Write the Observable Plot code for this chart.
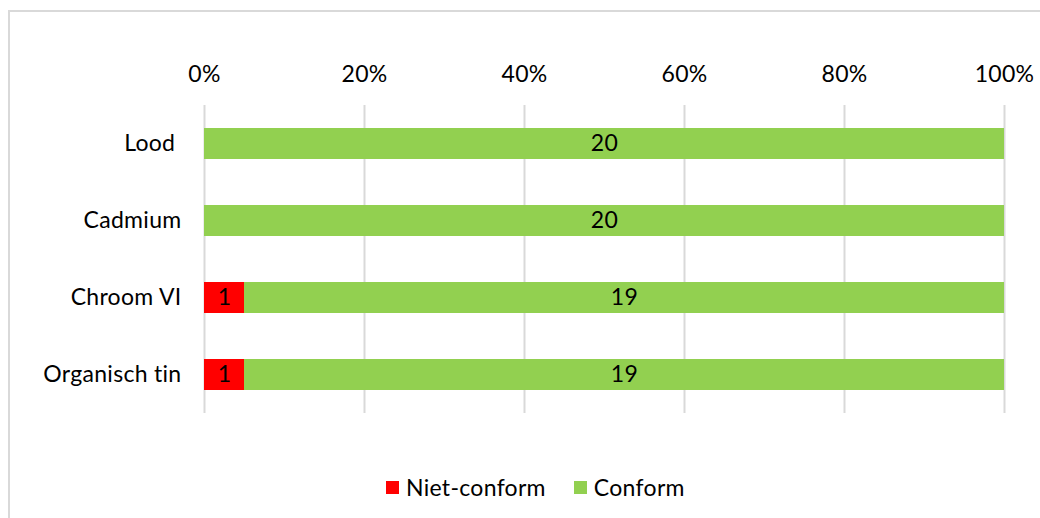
<!DOCTYPE html>
<html><head><meta charset="utf-8">
<script src="https://cdn.jsdelivr.net/npm/d3@7"></script>
<script src="https://cdn.jsdelivr.net/npm/@observablehq/plot@0.6"></script>
<style>
body{margin:0;background:#fff;font-family:Lato,"Open Sans",sans-serif;}
#wrap{position:relative;width:1040px;height:518px;overflow:hidden;}
#frame{position:absolute;left:8px;top:10px;width:1100px;height:600px;border:2px solid #d9d9d9;box-sizing:border-box;}
#chart{position:absolute;left:0;top:0;}
#legend{position:absolute;top:473px;left:386px;display:flex;font-size:23px;letter-spacing:0.3px;color:#000;white-space:nowrap;}
.item{display:flex;align-items:center;margin-right:28px;}
.sw{width:13px;height:13px;margin-right:7px;}
</style></head>
<body><div id="wrap"><div id="frame"></div><div id="chart"></div><div id="legend"></div></div>
<script>
const categories = ["Lood ", "Cadmium", "Chroom VI", "Organisch tin"];
const nietConform = [0, 0, 1, 1];
const conform = [20, 20, 19, 19];
const seriesNames = ["Niet-conform", "Conform"];
const seriesColors = ["#ff0000", "#92d050"];
const xTicks = [0, 0.2, 0.4, 0.6, 0.8, 1];

const rows = [];
categories.forEach((c, i) => {
  rows.push({cat: c, series: seriesNames[0], value: nietConform[i]});
  rows.push({cat: c, series: seriesNames[1], value: conform[i]});
});
const data = rows.filter(d => d.value > 0);

const plot = Plot.plot({
  width: 1040,
  height: 518,
  marginLeft: 204,
  marginRight: 36,
  marginTop: 105,
  marginBottom: 105,
  style: {fontFamily: "Lato, 'Open Sans', sans-serif", fontSize: "23px", letterSpacing: "0.3px", color: "#000", background: "transparent"},
  x: {domain: [0, 1], ticks: xTicks},
  y: {domain: categories, paddingInner: 0.6, paddingOuter: 0.3},
  color: {domain: seriesNames, range: seriesColors},
  marks: [
    Plot.gridX(xTicks, {stroke: "#d9d9d9", strokeOpacity: 1, strokeWidth: 2}),
    Plot.axisX({anchor: "top", ticks: xTicks, tickSize: 0, tickPadding: 24, label: null, tickFormat: d => Math.round(d * 100) + "%", fontSize: 23}),
    Plot.axisY({tickSize: 0, tickPadding: 23, fontSize: 23, label: null}),
    Plot.barX(data, Plot.stackX({offset: "normalize", x: "value", y: "cat", fill: "series", order: seriesNames})),
    Plot.text(data, Plot.stackX({offset: "normalize", x: "value", y: "cat", z: "series", order: seriesNames, text: d => String(d.value), fill: "#000", fontSize: 23}))
  ]
});
plot.querySelectorAll("text").forEach(t => t.setAttribute("xml:space", "preserve"));
document.getElementById("chart").appendChild(plot);

const lg = document.getElementById("legend");
seriesNames.forEach((s, i) => {
  const it = document.createElement("div"); it.className = "item";
  const sw = document.createElement("div"); sw.className = "sw"; sw.style.background = seriesColors[i];
  const tx = document.createElement("span"); tx.textContent = s;
  it.appendChild(sw); it.appendChild(tx); lg.appendChild(it);
});
</script></body></html>
